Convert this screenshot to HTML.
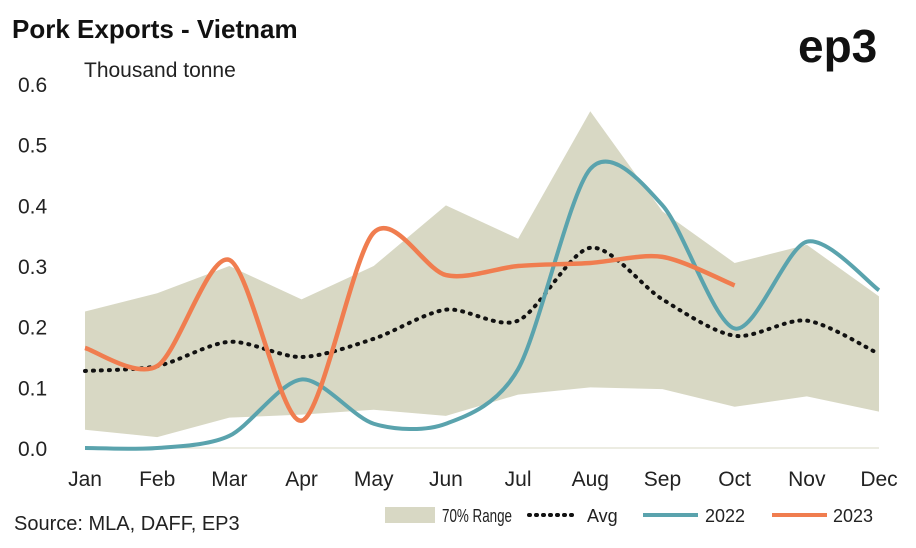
<!DOCTYPE html>
<html><head><meta charset="utf-8"><style>
body{margin:0;background:#fff;font-family:"Liberation Sans",sans-serif;}
svg text{font-family:"Liberation Sans",sans-serif;}
</style></head><body>
<svg id="chart" width="916" height="543" viewBox="0 0 916 543">
<text x="12" y="38" font-size="26" font-weight="bold" fill="#111">Pork Exports - Vietnam</text>
<text x="798" y="62" font-size="46" font-weight="bold" fill="#111">ep3</text>
<text x="84" y="77" font-size="21" fill="#222">Thousand tonne</text>
<g id="yticks"></g><g id="xticks"></g>
<g id="plot"></g>
<text x="14" y="530" font-size="20" fill="#222">Source: MLA, DAFF, EP3</text>
<g>
<rect x="385" y="507" width="50" height="16" fill="#d8d8c4"/>
<text x="442" y="522" font-size="18" fill="#222" textLength="70" lengthAdjust="spacingAndGlyphs">70% Range</text>
<line x1="529" y1="515" x2="578" y2="515" stroke="#111" stroke-width="4" stroke-dasharray="1,6" stroke-linecap="round"/>
<text x="587" y="522" font-size="18" fill="#222">Avg</text>
<line x1="643" y1="515" x2="698" y2="515" stroke="#5aa3ad" stroke-width="4"/>
<text x="705" y="522" font-size="18" fill="#222">2022</text>
<line x1="772" y1="515" x2="827" y2="515" stroke="#f07d4f" stroke-width="4"/>
<text x="833" y="522" font-size="18" fill="#222">2023</text>
</g>
</svg>
<script>
const months=["Jan","Feb","Mar","Apr","May","Jun","Jul","Aug","Sep","Oct","Nov","Dec"];
const yTicks=[0,0.1,0.2,0.3,0.4,0.5,0.6];
const yTickLabels=["0.0","0.1","0.2","0.3","0.4","0.5","0.6"];
const rangeUpper=[0.225,0.255,0.3,0.245,0.3,0.4,0.345,0.555,0.39,0.305,0.335,0.25];
const rangeLower=[0.03,0.018,0.05,0.055,0.063,0.053,0.088,0.1,0.097,0.068,0.085,0.06];
const avg=[0.127,0.135,0.175,0.15,0.18,0.228,0.21,0.33,0.245,0.185,0.21,0.155];
const s2022=[0,0,0.02,0.113,0.04,0.04,0.13,0.46,0.4,0.197,0.34,0.26];
const s2023=[0.165,0.135,0.31,0.045,0.355,0.285,0.3,0.305,0.315,0.268];
const NS="http://www.w3.org/2000/svg";
const xs=i=>85+i*(879-85)/11;
const ys=v=>448-v*(448-84)/0.6;
function mk(t,a,p){const e=document.createElementNS(NS,t);for(const k in a)e.setAttribute(k,a[k]);(p||document.getElementById('plot')).appendChild(e);return e;}
function smooth(vals){const p=vals.map((v,i)=>[xs(i),ys(v)]);let d="M"+p[0][0]+","+p[0][1];const k=7;
for(let i=0;i<p.length-1;i++){const p0=p[Math.max(i-1,0)],p1=p[i],p2=p[i+1],p3=p[Math.min(i+2,p.length-1)];
const c1=[p1[0]+(p2[0]-p0[0])/k,p1[1]+(p2[1]-p0[1])/k],c2=[p2[0]-(p3[0]-p1[0])/k,p2[1]-(p3[1]-p1[1])/k];
d+=" C"+c1+" "+c2+" "+p2;}return d;}
yTicks.forEach((v,i)=>{const t=mk('text',{x:18,y:ys(v)+8,'font-size':21,fill:'#222'},document.getElementById('yticks'));t.textContent=yTickLabels[i];

});
months.forEach((m,i)=>{const t=mk('text',{x:xs(i),y:486,'font-size':21,fill:'#222','text-anchor':'middle'},document.getElementById('xticks'));t.textContent=m;

});
let pts=rangeUpper.map((v,i)=>xs(i)+","+ys(v)).concat(rangeLower.map((v,i)=>xs(i)+","+ys(v)).reverse());
const band=mk('polygon',{points:pts.join(" "),fill:'#d8d8c4'});


const ax=mk('line',{x1:85,x2:879,y1:ys(0),y2:ys(0),stroke:'#d8d8c4','stroke-width':1});


const la=mk('path',{d:smooth(avg),fill:'none',stroke:'#111','stroke-width':4,'stroke-dasharray':'1,7','stroke-linecap':'round'});


const l22=mk('path',{d:smooth(s2022),fill:'none',stroke:'#5aa3ad','stroke-width':4});


const l23=mk('path',{d:smooth(s2023),fill:'none',stroke:'#f07d4f','stroke-width':4.5});


</script>
</body></html>
